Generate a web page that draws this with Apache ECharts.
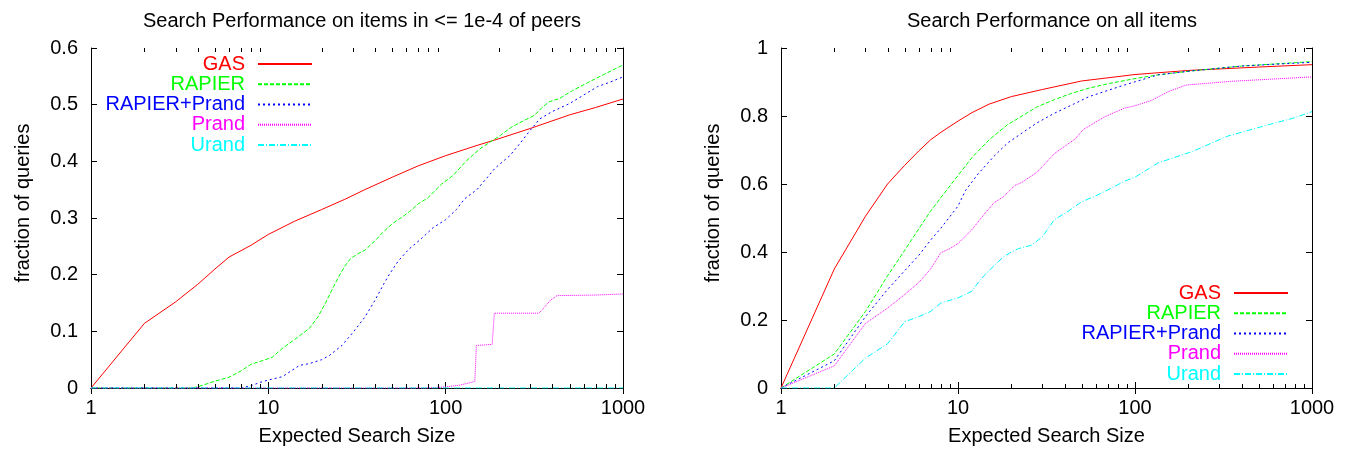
<!DOCTYPE html>
<html><head><meta charset="utf-8">
<script src="https://cdn.jsdelivr.net/npm/echarts@6/dist/echarts.min.js"></script>
<style>html,body{margin:0;padding:0;background:#fff}#c{width:1347px;height:451px}</style>
</head><body><div id="c"></div>
<script>
// ---------- data ----------
const seriesNames = ['GAS', 'RAPIER', 'RAPIER+Prand', 'Prand', 'Urand'];
const titles = ['Search Performance on items in <= 1e-4 of peers', 'Search Performance on all items'];
const xName = 'Expected Search Size';
const yName = 'fraction of queries';
const minorTickValues = [2,3,4,5,6,7,8,9,20,30,40,50,60,70,80,90,200,300,400,500,600,700,800,900];

// left chart: items in <= 1e-4 of peers
const leftGAS = [[1,0],[2,0.114],[3,0.152],[4,0.183],[5,0.21],[6,0.231],[8,0.252],[10,0.271],[14,0.294],[20,0.315],[27,0.333],[35,0.35],[50,0.372],[70,0.392],[100,0.41],[150,0.428],[200,0.44],[300,0.458],[500,0.482],[700,0.495],[1000,0.51]];
const leftRAPIER = [[1,0],[3.7,0],[4,0.002],[5,0.012],[6,0.019],[7,0.03],[8,0.042],[9,0.047],[10.5,0.054],[12,0.07],[14,0.085],[17,0.105],[19,0.125],[21,0.15],[23,0.175],[25,0.197],[27,0.215],[29,0.228],[32,0.237],[35,0.243],[40,0.26],[44,0.274],[50,0.29],[57,0.302],[63,0.312],[70,0.325],[79,0.335],[95,0.36],[110,0.375],[132,0.402],[156,0.422],[180,0.435],[204,0.446],[234,0.46],[276,0.472],[316,0.481],[350,0.495],[383,0.505],[439,0.511],[520,0.525],[643,0.54],[800,0.555],[1000,0.57]];
const leftRAPIERPrand = [[1,0],[7,0],[8,0.004],[9,0.01],[10,0.014],[12,0.02],[15,0.04],[17,0.043],[20,0.05],[22,0.057],[26,0.075],[30,0.098],[35,0.125],[40,0.155],[45,0.185],[48,0.2],[54,0.224],[62,0.245],[72,0.262],[85,0.283],[100,0.297],[115,0.315],[128,0.334],[150,0.35],[170,0.37],[190,0.388],[230,0.41],[260,0.43],[300,0.455],[340,0.475],[400,0.488],[500,0.502],[600,0.517],[720,0.532],[850,0.54],[1000,0.549]];
const leftPrand = [[1,0],[80,0],[100,0.002],[120,0.005],[140,0.01],[146,0.012],[149,0.075],[183,0.077],[188,0.132],[335,0.132],[350,0.138],[390,0.155],[425,0.163],[700,0.164],[1000,0.166]];
const leftUrand = [[1,0],[1000,0]];

// right chart: all items
const rightGAS = [[1,0],[2,0.35],[3,0.505],[4,0.6],[5,0.655],[6,0.697],[7,0.73],[8,0.752],[10,0.785],[12,0.81],[15,0.835],[20,0.857],[30,0.878],[50,0.903],[100,0.922],[200,0.934],[500,0.944],[1000,0.951]];
const rightRAPIER = [[1,0],[2,0.1],[3,0.225],[4,0.33],[5,0.405],[6,0.468],[7,0.52],[8,0.56],[10,0.625],[12,0.678],[15,0.73],[19,0.774],[23,0.8],[28,0.827],[35,0.848],[44,0.867],[55,0.882],[72,0.896],[100,0.91],[135,0.921],[212,0.933],[400,0.947],[1000,0.96]];
const rightRAPIERPrand = [[1,0],[2,0.08],[3,0.21],[4,0.29],[5,0.345],[6,0.39],[7,0.435],[8,0.47],[10,0.535],[11,0.58],[13,0.63],[16,0.682],[19,0.72],[23,0.75],[28,0.78],[35,0.808],[45,0.835],[55,0.857],[70,0.875],[87,0.891],[135,0.921],[212,0.933],[400,0.947],[1000,0.958]];
const rightPrand = [[1,0],[2,0.065],[3,0.19],[4,0.235],[5,0.275],[6,0.31],[7,0.35],[8,0.398],[9,0.41],[10,0.425],[12,0.466],[14,0.51],[16,0.545],[18,0.562],[21,0.596],[23,0.605],[28,0.635],[35,0.689],[46,0.733],[51,0.76],[67,0.797],[87,0.823],[100,0.83],[124,0.846],[155,0.872],[194,0.891],[350,0.902],[1000,0.915]];
const rightUrand = [[1,0],[2,0],[3,0.088],[4,0.13],[5,0.195],[6,0.21],[7,0.225],[8,0.25],[10,0.265],[11,0.275],[12,0.285],[13,0.31],[14,0.33],[16,0.36],[18,0.385],[20,0.4],[22,0.41],[26,0.42],[30,0.445],[35,0.495],[42,0.52],[50,0.548],[60,0.565],[75,0.59],[87,0.608],[100,0.62],[135,0.662],[212,0.696],[330,0.74],[565,0.774],[800,0.795],[1000,0.813]];

const leftData = [leftGAS, leftRAPIER, leftRAPIERPrand, leftPrand, leftUrand];
const rightData = [rightGAS, rightRAPIER, rightRAPIERPrand, rightPrand, rightUrand];
const yMaxes = [0.6, 1];
const yIntervals = [0.1, 0.2];

// ---------- styles ----------
const FONT = "'Liberation Sans', Arial, Helvetica, sans-serif";
const FS = 20;
const colors = ['#ff0000', '#00ff00', '#0000ff', '#ff00ff', '#00ffff'];
const dashes = ['solid', [4, 2], [2, 3], [1, 1], [6, 2, 1, 2]];

const chart = echarts.init(document.getElementById('c'), null, {renderer: 'canvas'});

const grids = [
  {left: 91, top: 48, width: 532, height: 341},
  {left: 781, top: 48, width: 531, height: 341}
];

const xAxes = [], yAxes = [], series = [];
grids.forEach((g, gi) => {
  const common = {gridIndex: gi, type: 'log', logBase: 10, min: 1, max: 1000};
  xAxes.push(Object.assign({}, common, {
    position: 'bottom',
    name: xName, nameLocation: 'middle', nameGap: 38,
    nameTextStyle: {fontSize: FS, fontFamily: FONT, color: '#000'},
    axisLine: {show: true, lineStyle: {color: '#000', width: 1}},
    axisTick: {show: true, inside: true, length: 6, lineStyle: {color: '#000'}},
    axisLabel: {show: true, fontSize: FS, fontFamily: FONT, color: '#000', margin: 10,
      formatter: v => String(Math.round(v))},
    splitLine: {show: false}
  }));
  xAxes.push(Object.assign({}, common, {
    position: 'top',
    axisLine: {show: true, lineStyle: {color: '#000', width: 1}},
    axisTick: {show: true, inside: true, length: 6, lineStyle: {color: '#000'}},
    axisLabel: {show: false},
    splitLine: {show: false}
  }));
  const ycommon = {gridIndex: gi, type: 'value', min: 0, max: yMaxes[gi], interval: yIntervals[gi]};
  yAxes.push(Object.assign({}, ycommon, {
    position: 'left',
    name: yName, nameLocation: 'middle', nameGap: 58, nameRotate: 90,
    nameTextStyle: {fontSize: FS, fontFamily: FONT, color: '#000', padding: [0, 0, 0, 30]},
    axisLine: {show: true, lineStyle: {color: '#000', width: 1}},
    axisTick: {show: true, inside: true, length: 6, lineStyle: {color: '#000'}},
    axisLabel: {show: true, fontSize: FS, fontFamily: FONT, color: '#000', margin: 13,
      formatter: v => String(+(+v).toFixed(2))},
    splitLine: {show: false}
  }));
  yAxes.push(Object.assign({}, ycommon, {
    position: 'right',
    axisLine: {show: true, lineStyle: {color: '#000', width: 1}},
    axisTick: {show: true, inside: true, length: 6, lineStyle: {color: '#000'}},
    axisLabel: {show: false},
    splitLine: {show: false}
  }));

  const dataSets = gi === 0 ? leftData : rightData;
  dataSets.forEach((d, si) => {
    series.push({
      type: 'line', name: seriesNames[si],
      xAxisIndex: gi * 2, yAxisIndex: gi * 2,
      data: d, symbol: 'none', showSymbol: false, smooth: false,
      lineStyle: {color: colors[si], width: 1, type: dashes[si]},
      itemStyle: {color: colors[si]},
      emphasis: {disabled: true},
      animation: false, z: 3 + si * 0.01
    });
  });

  // minor log ticks on bottom and top, placed through the axis scale
  series.push({
    type: 'custom', name: 'minorTicks' + gi,
    xAxisIndex: gi * 2, yAxisIndex: gi * 2,
    data: minorTickValues.map(v => [v, 0]),
    silent: true, clip: false, animation: false, z: 5,
    renderItem: (params, api) => {
      const v = api.value(0);
      const b = api.coord([v, 0]);
      const t = api.coord([v, yMaxes[gi]]);
      const x = Math.round(b[0]) + 0.5;
      const st = {stroke: '#000', lineWidth: 1};
      return {type: 'group', children: [
        {type: 'line', shape: {x1: x, y1: b[1], x2: x, y2: b[1] - 4}, style: st},
        {type: 'line', shape: {x1: x, y1: t[1], x2: x, y2: t[1] + 4}, style: st}
      ]};
    }
  });
});

const legendBase = {
  orient: 'vertical', align: 'right', padding: 0, itemGap: 0.25,
  itemWidth: 54, itemHeight: 14, selectedMode: false,
  itemStyle: {opacity: 0, borderWidth: 0},
  textStyle: {fontSize: FS, fontFamily: FONT, lineHeight: 20, padding: [0, 8, 0, 0]},
  data: seriesNames.map((n, i) => ({name: n, textStyle: {color: colors[i]}}))
};

chart.setOption({
  animation: false,
  backgroundColor: '#fff',
  title: [
    {text: titles[0], left: 357, top: 6, textAlign: 'center',
      textStyle: {fontSize: FS, fontWeight: 'normal', fontFamily: FONT, color: '#000'}},
    {text: titles[1], left: 1047, top: 6, textAlign: 'center',
      textStyle: {fontSize: FS, fontWeight: 'normal', fontFamily: FONT, color: '#000'}}
  ],
  legend: [
    Object.assign({}, legendBase, {right: 1034, top: 54}),
    Object.assign({}, legendBase, {right: 58, top: 283})
  ],
  grid: grids,
  xAxis: xAxes,
  yAxis: yAxes,
  series: series
});
</script>
</body></html>
